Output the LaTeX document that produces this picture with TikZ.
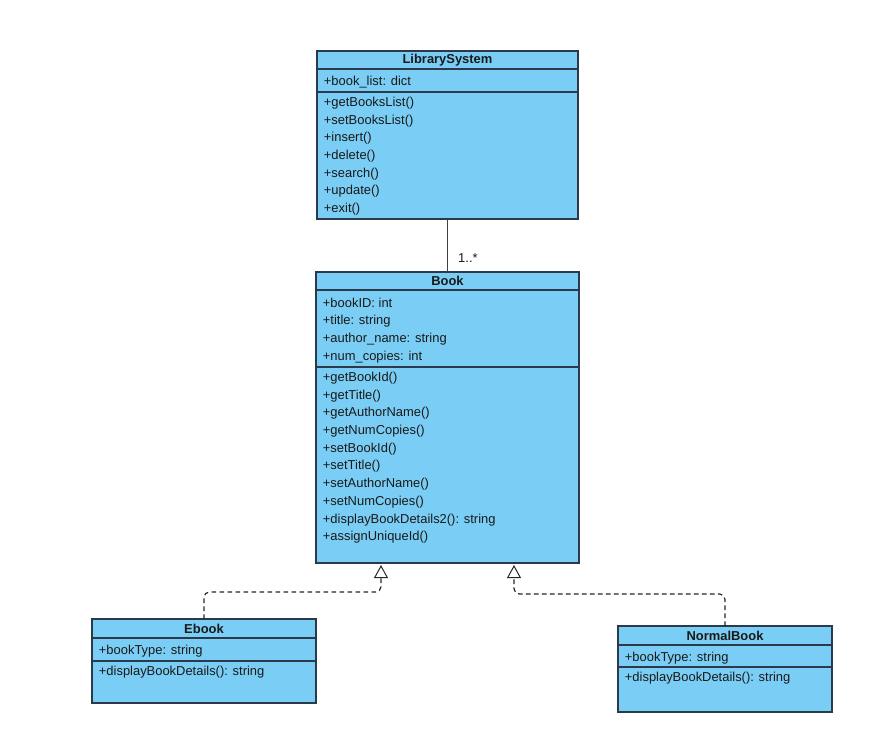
\documentclass[tikz,border=0pt]{standalone}
\usepackage{fontspec}
\setmainfont{Liberation Sans}
\usepackage{tikz}
\usetikzlibrary{arrows.meta, positioning}
\usepackage{xcolor}
\definecolor{classfill}{HTML}{7ACEF5}
\definecolor{classline}{HTML}{2B3A4A}
\newcommand{\pxu}{0.75pt}

\begin{document}
\begin{tikzpicture}[ 
x=0.75pt, y=-0.75pt, 
node distance=0pt, 
every node/.style={font=\fontsize{9.7}{13.3}\selectfont, text=black!90}, 
compart/.style={draw=classline, 
line width=0.9pt, 
fill=classfill, 
rectangle, 
inner sep=0pt, 
outer sep=0pt}, 
header/.style={compart, font=\fontsize{9.7}{13.3}\selectfont\bfseries}, 
members/.style={anchor=north west, align=left, inner xsep=5pt, inner ysep=3.5pt}, 
attrtext/.style={members, anchor=west, inner ysep=2pt, yshift=-1.5pt}, 
assoc/.style={draw=black!75, line width=1.1pt}, 
realize/.style={draw=black!85, line width=0.9pt, dash pattern=on 3.4pt off 2.6pt, 
rounded corners=4pt, shorten >=1.5pt, 
-{Triangle[open, width=10.5pt, length=9.75pt, line width=0.75pt]}} ]

\useasboundingbox (0,0) rectangle (896,749);

% LibrarySystem
\node[header, minimum width=261*\pxu, minimum height=18*\pxu, anchor=north west] (libhead) at (317,51) {LibrarySystem}; 
\node[compart, minimum width=261*\pxu, minimum height=23*\pxu, below=of libhead] (libattr) {}; 
\node[compart, minimum width=261*\pxu, minimum height=127*\pxu, below=of libattr] (libops) {}; 
\node[attrtext] (libattrtext) at (libattr.west) {+book\_list: dict}; 
\node[members] (libopstext) at (libops.north west) {+getBooksList()\\+setBooksList()\\+insert()\\+delete()\\+search()\\+update()\\+exit()};

% Book
\node[header, minimum width=263*\pxu, minimum height=18*\pxu, anchor=north west] (bookhead) at (316,272) {Book}; 
\node[compart, minimum width=263*\pxu, minimum height=77*\pxu, below=of bookhead] (bookattr) {}; 
\node[compart, minimum width=263*\pxu, minimum height=196*\pxu, below=of bookattr] (bookops) {}; 
\node[attrtext] (bookattrtext) at (bookattr.west) {+bookID: int\\+title: string\\+author\_name: string\\+num\_copies: int}; 
\node[members] (bookopstext) at (bookops.north west) {+getBookId()\\+getTitle()\\+getAuthorName()\\+getNumCopies()\\+setBookId()\\+setTitle()\\+setAuthorName()\\+setNumCopies()\\+displayBookDetails2(): string\\+assignUniqueId()};

% Ebook
\node[header, minimum width=224*\pxu, minimum height=19*\pxu, anchor=north west] (ebookhead) at (92,619) {Ebook}; 
\node[compart, minimum width=224*\pxu, minimum height=23*\pxu, below=of ebookhead] (ebookattr) {}; 
\node[compart, minimum width=224*\pxu, minimum height=42*\pxu, below=of ebookattr] (ebookops) {}; 
\node[attrtext] (ebookattrtext) at (ebookattr.west) {+bookType: string}; 
\node[members] (ebookopstext) at (ebookops.north west) {+displayBookDetails(): string};

% NormalBook
\node[header, minimum width=214*\pxu, minimum height=19*\pxu, anchor=north west] (normalhead) at (618,626) {NormalBook}; 
\node[compart, minimum width=214*\pxu, minimum height=22*\pxu, below=of normalhead] (normalattr) {}; 
\node[compart, minimum width=214*\pxu, minimum height=45*\pxu, below=of normalattr] (normalops) {}; 
\node[attrtext] (normalattrtext) at (normalattr.west) {+bookType: string}; 
\node[members] (normalopstext) at (normalops.north west) {+displayBookDetails(): string};

\draw[assoc] (libops.south) -- node[pos=0.74, anchor=west, xshift=7.5pt, inner sep=0pt] (multlabel) {1..*} (bookhead.north); 
\draw[realize] (ebookhead.north) -- ++(0,-27) -| ([xshift=-66.5*\pxu]bookops.south); 
\draw[realize] (normalhead.north) -- ++(0,-32) -| ([xshift=66.5*\pxu]bookops.south);

\end{tikzpicture}
\end{document}
